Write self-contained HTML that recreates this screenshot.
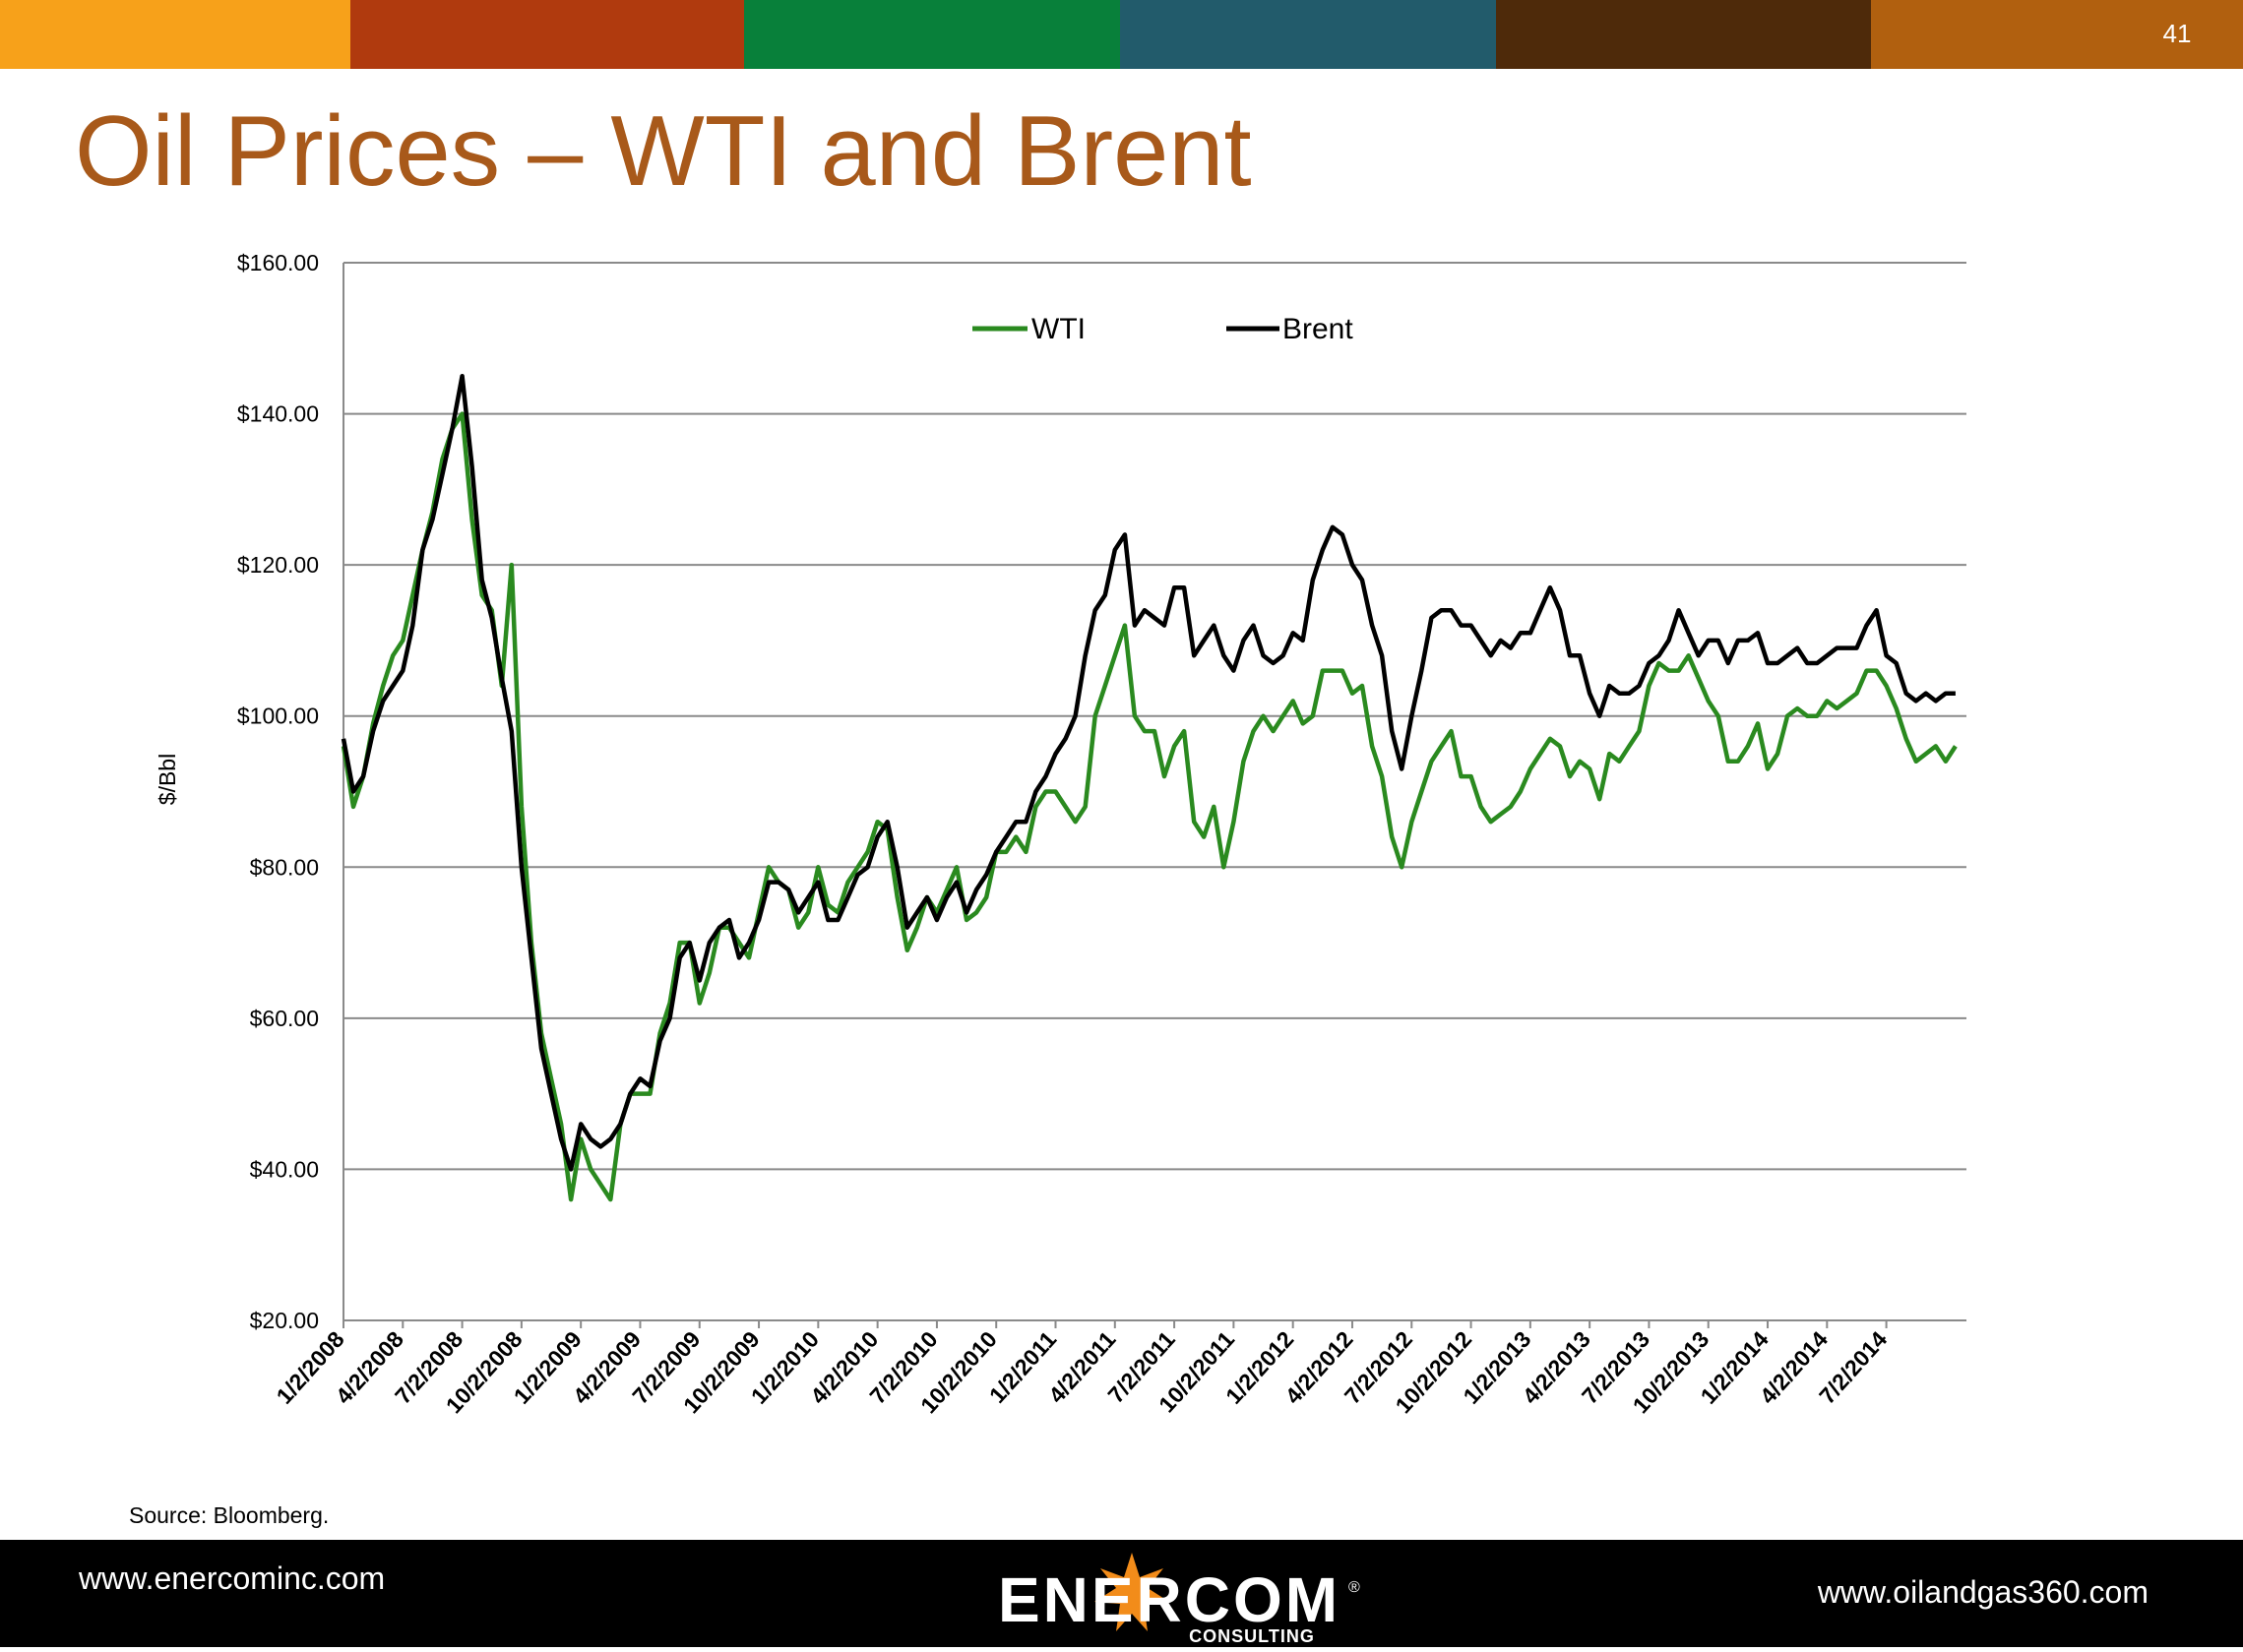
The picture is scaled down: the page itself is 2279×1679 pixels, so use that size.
<!DOCTYPE html>
<html><head><meta charset="utf-8"><style>
body{margin:0;width:2279px;height:1674px;overflow:hidden;background:#fff;font-family:"Liberation Sans",sans-serif}
</style></head><body>
<svg id="s" width="2279" height="1674" xmlns="http://www.w3.org/2000/svg">
<g>
<rect x="0" y="0" width="356" height="70" fill="#F7A11A"/>
<rect x="356" y="0" width="400" height="70" fill="#B03A0E"/>
<rect x="756" y="0" width="382" height="70" fill="#08803A"/>
<rect x="1138" y="0" width="382" height="70" fill="#225B6B"/>
<rect x="1520" y="0" width="381" height="70" fill="#4E2A0A"/>
<rect x="1901" y="0" width="378" height="70" fill="#B1600F"/>
</g>
<text x="2212" y="43" fill="#fff" font-size="26" text-anchor="middle">41</text>
<text x="76" y="188" fill="#A8591A" font-size="101">Oil Prices – WTI and Brent</text>
<g id="grid"></g>
<g id="axes"></g>
<g id="lines"></g>
<g>
<line x1="988" y1="334" x2="1044" y2="334" stroke="#2A8A1F" stroke-width="5"/>
<text x="1048" y="344" font-size="30">WTI</text>
<line x1="1246" y1="334" x2="1300" y2="334" stroke="#000" stroke-width="5"/>
<text x="1303" y="344" font-size="30">Brent</text>
</g>
<text transform="translate(178,792) rotate(-90)" font-size="23" text-anchor="middle">$/Bbl</text>
<text x="131" y="1548" font-size="23">Source: Bloomberg.</text>
<rect x="0" y="1565" width="2279" height="109" fill="#000"/>
<text x="80" y="1615" fill="#fff" font-size="32">www.enercominc.com</text>
<text x="2183" y="1629" fill="#fff" font-size="32" text-anchor="end">www.oilandgas360.com</text>
<g>
<polygon points="1150,1578 1158,1603 1182,1594 1166,1614 1188,1628 1162,1630 1166,1658 1150,1640 1134,1658 1138,1630 1112,1628 1134,1614 1118,1594 1142,1603" fill="#F28C1A"/>
<text x="1188" y="1648" fill="#fff" font-size="64" font-weight="bold" text-anchor="middle" letter-spacing="3">ENERCOM</text>
<text x="1370" y="1618" fill="#fff" font-size="16">®</text>
<text x="1272" y="1669" fill="#fff" font-size="18" font-weight="bold" text-anchor="middle" letter-spacing="1">CONSULTING</text>
</g>
</svg>
<script>
const yTicks=[20,40,60,80,100,120,140,160];
const xLabels=["1/2/2008","4/2/2008","7/2/2008","10/2/2008","1/2/2009","4/2/2009","7/2/2009","10/2/2009","1/2/2010","4/2/2010","7/2/2010","10/2/2010","1/2/2011","4/2/2011","7/2/2011","10/2/2011","1/2/2012","4/2/2012","7/2/2012","10/2/2012","1/2/2013","4/2/2013","7/2/2013","10/2/2013","1/2/2014","4/2/2014","7/2/2014"];
const brent=[97,90,92,98,102,104,106,112,122,126,132,138,145,133,118,113,105,98,80,68,56,50,44,40,
46,44,43,44,46,50,52,51,57,60,68,70,65,70,72,73,68,70,73,78,78,77,74,76,
78,73,73,76,79,80,84,86,80,72,74,76,73,76,78,74,77,79,82,84,86,86,90,92,
95,97,100,108,114,116,122,124,112,114,113,112,117,117,108,110,112,108,106,110,112,108,107,108,
111,110,118,122,125,124,120,118,112,108,98,93,100,106,113,114,114,112,112,110,108,110,109,111,
111,114,117,114,108,108,103,100,104,103,103,104,107,108,110,114,111,108,110,110,107,110,110,111,
107,107,108,109,107,107,108,109,109,109,112,114,108,107,103,102,103,102,103,103];
const wti=[96,88,92,99,104,108,110,116,122,127,134,138,140,126,116,114,104,120,88,70,58,52,46,36,
44,40,38,36,46,50,50,50,58,62,70,70,62,66,72,72,70,68,74,80,78,77,72,74,
80,75,74,78,80,82,86,85,76,69,72,76,74,77,80,73,74,76,82,82,84,82,88,90,
90,88,86,88,100,104,108,112,100,98,98,92,96,98,86,84,88,80,86,94,98,100,98,100,
102,99,100,106,106,106,103,104,96,92,84,80,86,90,94,96,98,92,92,88,86,87,88,90,
93,95,97,96,92,94,93,89,95,94,96,98,104,107,106,106,108,105,102,100,94,94,96,99,
93,95,100,101,100,100,102,101,102,103,106,106,104,101,97,94,95,96,94,96];
const L=349,R=1998,T=267,B=1342,NS="http://www.w3.org/2000/svg";
const qW=(R-L)/27.35;
const yS=v=>B-(v-20)/(160-20)*(B-T);
const xS=i=>L+i*qW/6;
function mk(t,a,p){const e=document.createElementNS(NS,t);for(const k in a)e.setAttribute(k,a[k]);p.appendChild(e);return e;}
const grid=document.getElementById('grid'),axes=document.getElementById('axes'),lines=document.getElementById('lines');
yTicks.forEach(v=>{
 const g=mk('line',{x1:L,x2:R,y1:yS(v),y2:yS(v),stroke:'#8a8a8a','stroke-width':2},grid);
 
 
 const t=mk('text',{x:324,y:yS(v)+8,'font-size':23,'text-anchor':'end'},axes);
 t.textContent='$'+v.toFixed(2);
 
 
});
const ax=mk('line',{x1:L,x2:L,y1:T,y2:B,stroke:'#8a8a8a','stroke-width':2},axes);


xLabels.forEach((s,i)=>{
 const x=L+i*qW;
 mk('line',{x1:x,x2:x,y1:B,y2:B+8,stroke:'#8a8a8a','stroke-width':2},axes);
 const t=mk('text',{transform:`translate(${x+2},${B+20}) rotate(-48)`,'font-size':23,'font-weight':'bold','text-anchor':'end'},axes);
 t.textContent=s;
 
 
});
function draw(arr,col,name){
 const d=arr.map((v,i)=>(i?'L':'M')+xS(i).toFixed(1)+','+yS(v).toFixed(1)).join('');
 const p=mk('path',{d:d,fill:'none',stroke:col,'stroke-width':4.5,'stroke-linejoin':'round'},lines);
 
 
}
draw(wti,'#2A8A1F','wti-line');
draw(brent,'#000','brent-line');
</script>
</body></html>
